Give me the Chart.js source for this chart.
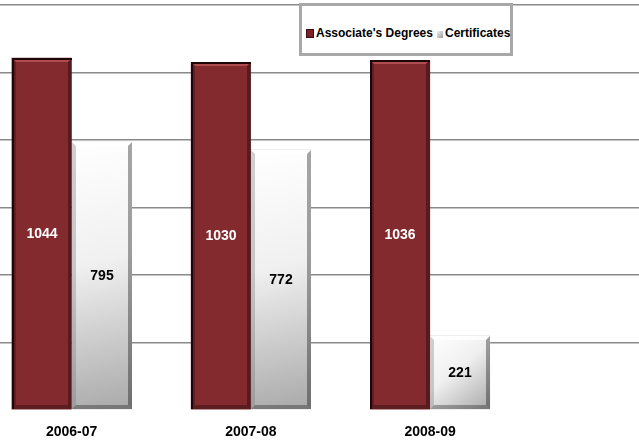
<!DOCTYPE html>
<html>
<head>
<meta charset="utf-8">
<script src="https://cdn.jsdelivr.net/npm/chart.js@4/dist/chart.umd.min.js"></script>
<style>
  html, body { margin: 0; padding: 0; background: #fff; overflow: hidden; }
  #wrap { position: relative; width: 639px; height: 440px; overflow: hidden; }
  #canvasBox { position: absolute; left: -18px; top: 0; width: 717px; height: 456px; }
  #legend {
    position: absolute; left: 299px; top: 3px; width: 208px; height: 47px;
    border: 3px solid #a8a8a8; background: #fff;
    font: bold 12px "Liberation Sans", Arial, sans-serif; color: #000;
  }
  #legend .item { position: absolute; top: 20px; line-height: 14px; white-space: nowrap; }
  #legend .mark { display: inline-block; width: 6px; height: 7px; margin-right: 2px; vertical-align: -1px; }
  .mark.red  { background: #7d1f25; border: 0.5px solid #3a0d10; }
  .mark.grey { background: linear-gradient(135deg, #f2f2f2, #9a9a9a); }
</style>
</head>
<body>
<div id="wrap">
  <div id="canvasBox"><canvas id="chart" width="717" height="456"></canvas></div>
  <div id="legend">
    <span class="item" style="left:4px"><span class="mark red"></span>Associate's Degrees</span>
    <span class="item" style="left:135px"><span class="mark grey"></span>Certificates</span>
  </div>
</div>
<script>
'use strict';

// ── Data ─────────────────────────────────────────────
const categories   = ['2006-07', '2007-08', '2008-09'];
const associates   = [1044, 1030, 1036];
const certificates = [795, 772, 221];
const yMax  = 1200;
const yStep = 200;

const FONT = '"Liberation Sans", Arial, sans-serif';

// empty fourth slot so the plot runs on to the right edge, as in the picture
const labels = [...categories, ''];
const pad = arr => [...arr, null];

// ── Bevel / gradient look for the bars ───────────────
const bevelPlugin = {
  id: 'bevel',
  afterDatasetsDraw(chart) {
    const c = chart.ctx;
    chart.data.datasets.forEach((ds, di) => {
      const meta = chart.getDatasetMeta(di);
      meta.data.forEach((bar, i) => {
        if (ds.data[i] == null) return;
        const { x, y, base, width } = bar.getProps(['x', 'y', 'base', 'width'], true);
        const x0 = Math.round(x - width / 2), x1 = Math.round(x + width / 2);
        const y0 = Math.round(y), y1 = Math.round(base);
        const b = 4;
        c.save();
        if (di === 1) {
          const g = c.createLinearGradient(x0, y0, x1, y1);
          g.addColorStop(0, '#ffffff');
          g.addColorStop(0.45, '#f0f0f0');
          g.addColorStop(1, '#a9a9a9');
          c.fillStyle = g;
          c.fillRect(x0, y0, x1 - x0, y1 - y0);
        }
        const quad = (pts, col) => {
          c.beginPath();
          c.moveTo(pts[0], pts[1]);
          for (let k = 2; k < pts.length; k += 2) c.lineTo(pts[k], pts[k + 1]);
          c.closePath();
          c.fillStyle = col;
          c.fill();
        };
        // top
        quad([x0, y0, x1, y0, x1 - b, y0 + b, x0 + b, y0 + b], di === 0 ? 'rgba(255,140,140,0.35)' : 'rgba(255,255,255,0.8)');
        // left
        quad([x0, y0, x0 + b, y0 + b, x0 + b, y1 - b, x0, y1], di === 0 ? 'rgba(0,0,0,0.25)' : 'rgba(120,120,120,0.35)');
        // right
        quad([x1, y0, x1, y1, x1 - b, y1 - b, x1 - b, y0 + b], 'rgba(0,0,0,0.35)');
        // bottom
        quad([x0, y1, x1, y1, x1 - b, y1 - b, x0 + b, y1 - b], 'rgba(0,0,0,0.3)');
        if (di === 0) {
          c.strokeStyle = '#1e0608';
          c.lineWidth = 2;
          c.beginPath();
          c.moveTo(x0 + 1, y1);
          c.lineTo(x0 + 1, y0 + 1);
          c.lineTo(x1, y0 + 1);
          c.stroke();
        }
        // value label in the middle of the bar
        c.fillStyle = di === 0 ? '#ffffff' : '#000000';
        c.font = 'bold 14px ' + FONT;
        c.textAlign = 'center';
        c.textBaseline = 'middle';
        c.fillText(String(ds.data[i]), (x0 + x1) / 2, (y0 + y1) / 2 + 1);
        c.restore();
      });
    });
  }
};

new Chart(document.getElementById('chart'), {
  type: 'bar',
  data: {
    labels: labels,
    datasets: [
      {
        label: "Associate's Degrees",
        data: pad(associates),
        backgroundColor: '#832a2f',
        borderWidth: 0,
        categoryPercentage: 0.67,
        barPercentage: 1.0,
      },
      {
        label: 'Certificates',
        data: pad(certificates),
        backgroundColor: '#e0e0e0',
        borderWidth: 0,
        categoryPercentage: 0.67,
        barPercentage: 1.0,
      },
    ],
  },
  options: {
    responsive: false,
    animation: false,
    layout: { padding: { top: 5, bottom: 1, left: 0, right: 0 } },
    plugins: {
      legend: { display: false },
      tooltip: { enabled: false },
    },
    scales: {
      x: {
        grid: { display: false, drawTicks: false },
        border: { display: false },
        ticks: {
          padding: 14,
          color: '#000',
          font: { family: FONT, size: 14, weight: 'bold' },
        },
      },
      y: {
        min: 0,
        max: yMax,
        grid: {
          drawTicks: false,
          color: ctx => (ctx.tick && ctx.tick.value === 0 ? 'rgba(0,0,0,0)' : '#8a8a8a'),
          lineWidth: 1.5,
        },
        border: { display: false },
        ticks: { display: false, stepSize: yStep },
      },
    },
  },
  plugins: [bevelPlugin],
});
</script>
</body>
</html>
